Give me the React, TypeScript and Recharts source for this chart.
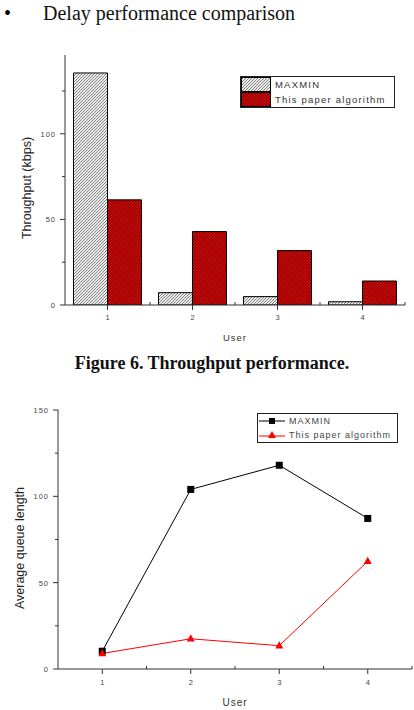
import { BarChart, Bar, LineChart, Line, XAxis, YAxis } from 'recharts'

const users = ['1', '2', '3', '4']
const maxminThroughput = [135.5, 7.2, 4.9, 1.9]
const paperThroughput = [61.4, 42.9, 31.8, 14]
const throughputTicks = [0, 25, 50, 75, 100, 125]

const userNums = [1, 2, 3, 4]
const maxminQueue = [10.3, 104, 118, 87.2]
const paperQueue = [9, 17.5, 13.5, 62.4]
const queueTicks = [0, 25, 50, 75, 100, 125, 150]
const queueXTicks = [1, 1.5, 2, 2.5, 3, 3.5, 4, 4.5]

const barData = users.map((u, i) => ({ user: u, maxmin: maxminThroughput[i], paper: paperThroughput[i] }))
const lineData = userNums.map((u, i) => ({ user: u, maxmin: maxminQueue[i], paper: paperQueue[i] }))

const SANS = '"Liberation Sans", Arial, sans-serif'
const SERIF = '"Liberation Serif", "Times New Roman", serif'
const AXIS = '#333'

// y ticks: labels every 50, short minor ticks between
const YTick = (props: any) => {
  const { x, y, payload } = props
  const major = payload.value % 50 === 0
  return (
    <g>
      <line x1={x - (major ? 5 : 3)} y1={y} x2={x} y2={y} stroke={AXIS} />
      {major && (
        <text x={x - 9} y={y + 3} textAnchor="end" fontSize={7.5} fill="#444" fontFamily={SANS} letterSpacing={1}>
          {payload.value}
        </text>
      )}
    </g>
  )
}

// category ticks for bars: major down at center, minor up at band edge
const BarXTick = (props: any) => {
  const { x, y, payload } = props
  const off = payload.offset ?? 42.5
  return (
    <g>
      <line x1={x} y1={y} x2={x} y2={y + 5} stroke={AXIS} />
      <line x1={x + off} y1={y} x2={x + off} y2={y - 3} stroke={AXIS} />
      <text x={x} y={y + 15} textAnchor="middle" fontSize={7.5} fill="#444" fontFamily={SANS}>
        {payload.value}
      </text>
    </g>
  )
}

const LineXTick = (props: any) => {
  const { x, y, payload } = props
  const major = Number.isInteger(payload.value)
  if (!major) return <line x1={x} y1={y} x2={x} y2={y - 3} stroke={AXIS} />
  return (
    <g>
      <line x1={x} y1={y} x2={x} y2={y + 5} stroke={AXIS} />
      <text x={x} y={y + 16} textAnchor="middle" fontSize={7.5} fill="#444" fontFamily={SANS}>
        {payload.value}
      </text>
    </g>
  )
}

const SquareDot = (props: any) => {
  const { cx, cy, index } = props
  return <rect key={`sq-${index}`} x={cx - 3.5} y={cy - 3.5} width={7} height={7} fill="#000" />
}

const TriangleDot = (props: any) => {
  const { cx, cy, index } = props
  return <polygon key={`tr-${index}`} points={`${cx},${cy - 4.5} ${cx + 4},${cy + 2.8} ${cx - 4},${cy + 2.8}`} fill="#ff0000" />
}

const abs = (left: number, top: number): any => ({ position: 'absolute', left, top })

const vLabel = (cx: number, cy: number): any => ({
  position: 'absolute',
  left: cx,
  top: cy,
  transform: 'translate(-50%, -50%) rotate(-90deg)',
  whiteSpace: 'nowrap',
  fontFamily: SANS,
  fontSize: 12.5,
  color: '#222',
})

export default function App() {
  return (
    <div style={{ position: 'absolute', left: 0, top: 0, width: 414, height: 710, background: '#fff', overflow: 'hidden' }}>
      <svg width={0} height={0} style={{ position: 'absolute' }}>
        <defs>
          <pattern id="hatchMaxmin" patternUnits="userSpaceOnUse" width={3} height={3}>
            <rect width={3} height={3} fill="#ececec" />
            <path d="M-1,1 l2,-2 M0,3 l3,-3 M2,4 l2,-2" stroke="#555" strokeWidth={0.7} />
          </pattern>
          <pattern id="hatchPaper" patternUnits="userSpaceOnUse" width={3} height={3}>
            <rect width={3} height={3} fill="#d60000" />
            <path d="M-1,2 l2,2 M0,0 l3,3 M2,-1 l2,2" stroke="#4a0000" strokeWidth={0.8} />
          </pattern>
        </defs>
      </svg>

      {/* heading */}
      <div style={{ ...abs(4, 2), fontFamily: SERIF, fontSize: 20, lineHeight: '22px' }}>•</div>
      <div style={{ ...abs(43, 2), fontFamily: SERIF, fontSize: 20, lineHeight: '22px', color: '#111' }}>
        Delay performance comparison
      </div>

      {/* throughput bar chart */}
      <div style={abs(0, 0)}>
        <BarChart width={414} height={350} data={barData} margin={{ top: 55, right: 9, left: 0, bottom: 0 }} barCategoryGap="10%" barGap={0}>
          <XAxis dataKey="user" height={45} stroke={AXIS} tickSize={0} tickMargin={0} tick={<BarXTick />} tickLine={false} interval={0} />
          <YAxis width={65} domain={[0, 146]} ticks={throughputTicks} stroke={AXIS} tickSize={0} tickMargin={0} tick={<YTick />} tickLine={false} allowDataOverflow />
          <Bar dataKey="maxmin" fill="url(#hatchMaxmin)" stroke="#000" strokeWidth={1} isAnimationActive={false} />
          <Bar dataKey="paper" fill="url(#hatchPaper)" stroke="#000" strokeWidth={1} isAnimationActive={false} />
        </BarChart>
      </div>
      <div style={vLabel(27, 188)}>Throughput (kbps)</div>
      <div style={{ ...abs(235, 337), transform: 'translate(-50%, -50%)', fontFamily: SANS, fontSize: 9.5, letterSpacing: 1, color: '#333' }}>User</div>

      <div style={{ ...abs(240, 76), width: 153, height: 30, border: '1px solid #222', background: '#fff', fontFamily: SANS, fontSize: 9.5, letterSpacing: 1.2, color: '#333' }}>
        <div style={{ display: 'flex', alignItems: 'center', height: 15 }}>
          <svg width={30} height={15}><rect x={0.5} y={0.5} width={29} height={14} fill="url(#hatchMaxmin)" stroke="#000" /></svg>
          <span style={{ marginLeft: 4 }}>MAXMIN</span>
        </div>
        <div style={{ display: 'flex', alignItems: 'center', height: 15 }}>
          <svg width={30} height={15}><rect x={0.5} y={0.5} width={29} height={14} fill="url(#hatchPaper)" stroke="#000" /></svg>
          <span style={{ marginLeft: 4 }}>This paper algorithm</span>
        </div>
      </div>

      {/* caption */}
      <div style={{ ...abs(0, 353), width: 424, textAlign: 'center', fontFamily: SERIF, fontWeight: 'bold', fontSize: 18, lineHeight: '20px', color: '#111' }}>
        Figure 6. Throughput performance.
      </div>

      {/* queue length line chart */}
      <div style={abs(0, 380)}>
        <LineChart width={414} height={330} data={lineData} margin={{ top: 30, right: 2, left: 0, bottom: 0 }}>
          <XAxis dataKey="user" type="number" domain={[0.5, 4.5]} ticks={queueXTicks} height={41} stroke={AXIS} tickSize={0} tickMargin={0} tick={<LineXTick />} tickLine={false} interval={0} allowDataOverflow />
          <YAxis width={58} domain={[0, 150]} ticks={queueTicks} stroke={AXIS} tickSize={0} tickMargin={0} tick={<YTick />} tickLine={false} allowDataOverflow />
          <Line type="linear" dataKey="maxmin" stroke="#000" strokeWidth={1} dot={<SquareDot />} isAnimationActive={false} />
          <Line type="linear" dataKey="paper" stroke="#ff0000" strokeWidth={1} dot={<TriangleDot />} isAnimationActive={false} />
        </LineChart>
      </div>
      <div style={vLabel(20, 548)}>Average queue length</div>
      <div style={{ ...abs(235, 702), transform: 'translate(-50%, -50%)', fontFamily: SANS, fontSize: 10, letterSpacing: 1, color: '#333' }}>User</div>

      <div style={{ ...abs(257, 413), width: 139, height: 28, border: '1px solid #222', background: '#fff', fontFamily: SANS, fontSize: 9, letterSpacing: 1, color: '#444' }}>
        <div style={{ display: 'flex', alignItems: 'center', height: 14 }}>
          <svg width={28} height={14}>
            <line x1={1} y1={7} x2={27} y2={7} stroke="#000" />
            <rect x={11} y={4} width={6} height={6} fill="#000" />
          </svg>
          <span style={{ marginLeft: 3 }}>MAXMIN</span>
        </div>
        <div style={{ display: 'flex', alignItems: 'center', height: 14 }}>
          <svg width={28} height={14}>
            <line x1={1} y1={8} x2={27} y2={8} stroke="#ff0000" />
            <polygon points="14,3 18,10 10,10" fill="#ff0000" />
          </svg>
          <span style={{ marginLeft: 3 }}>This paper algorithm</span>
        </div>
      </div>
    </div>
  )
}
